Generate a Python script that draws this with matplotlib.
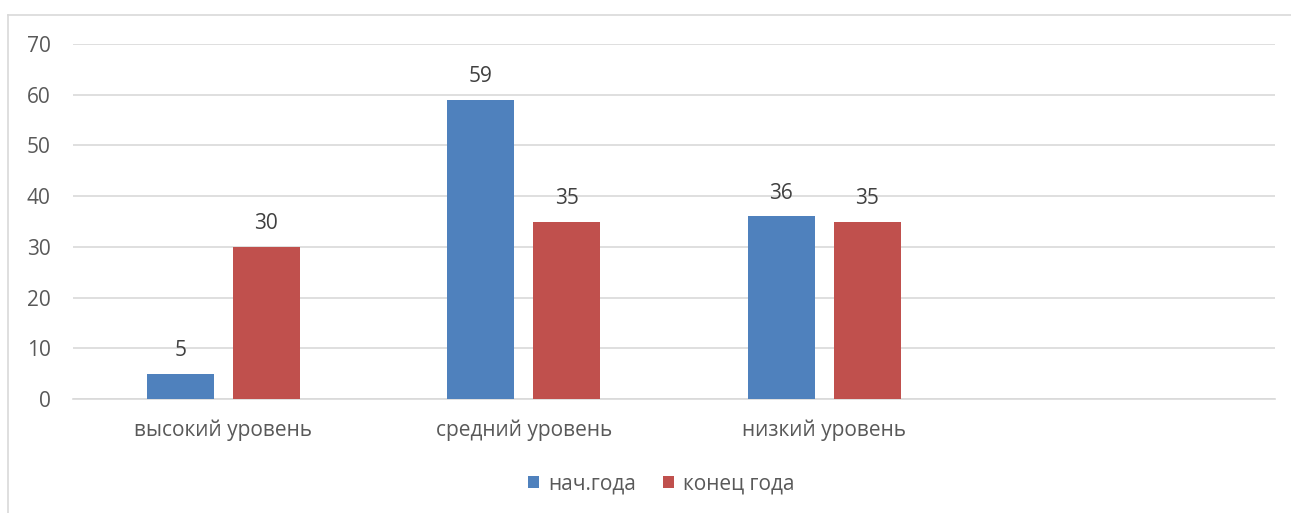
import matplotlib
matplotlib.use("Agg")
import matplotlib.pyplot as plt
from matplotlib.lines import Line2D
import numpy as np

categories = ["высокий уровень", "средний уровень", "низкий уровень", ""]
series_names = ["нач.года", "конец года"]
start_vals = [5, 59, 36, None]
end_vals = [30, 35, 35, None]
y_ticks = [0, 10, 20, 30, 40, 50, 60, 70]

colors = ["#4F81BD", "#C0504D"]
text_color = "#595959"
grid_color = "#D9D9D9"

plt.rcParams['font.family'] = ['Open Sans', 'DejaVu Sans']

fig = plt.figure(figsize=(12.91, 5.13), dpi=100)
ax = fig.add_axes([73/1291, 1-399/513, (1275-73)/1291, (399-44)/513])

x = np.arange(len(categories))
offset = 0.143
width = 0.223
for vals, sign, col, name in [(start_vals, -1, colors[0], series_names[0]),
                              (end_vals, 1, colors[1], series_names[1])]:
    xs = [xi + sign*offset for xi, v in zip(x, vals) if v is not None]
    vs = [v for v in vals if v is not None]
    bars = ax.bar(xs, vs, width=width, color=col, label=name, zorder=3)
    for b, v in zip(bars, vs):
        ax.annotate(str(v), (b.get_x()+b.get_width()/2, v), xytext=(0, 9),
                    textcoords="offset points", ha="center", va="bottom",
                    fontsize=15, color="#404040")

ax.set_xlim(-0.5, len(categories)-0.5)
ax.set_ylim(0, 70)
ax.set_yticks(y_ticks)
ax.set_xticks(x)
ax.set_xticklabels(categories)
ax.tick_params(axis='both', length=0, labelsize=15, colors=text_color)
ax.tick_params(axis='y', pad=16)
ax.tick_params(axis='x', pad=15)
ax.grid(axis='y', color=grid_color, linewidth=1.2, zorder=0)
for s in ["top", "right", "left"]:
    ax.spines[s].set_visible(False)
ax.spines["bottom"].set_color(grid_color)
ax.spines["bottom"].set_linewidth(1.2)

leg = fig.legend(loc="center", bbox_to_anchor=(661/1291, 1-484/513), ncol=2,
                 frameon=False, fontsize=15, handlelength=0.55, handleheight=0.55,
                 handletextpad=0.4, columnspacing=1.3)
for t in leg.get_texts():
    t.set_color(text_color)

fig.add_artist(Line2D([8/1291, 8/1291], [0, 1-15/513], color=grid_color, lw=1.2))
fig.add_artist(Line2D([8/1291, 1], [1-15/513, 1-15/513], color=grid_color, lw=1.2))

fig.savefig("out.png", dpi=100)
